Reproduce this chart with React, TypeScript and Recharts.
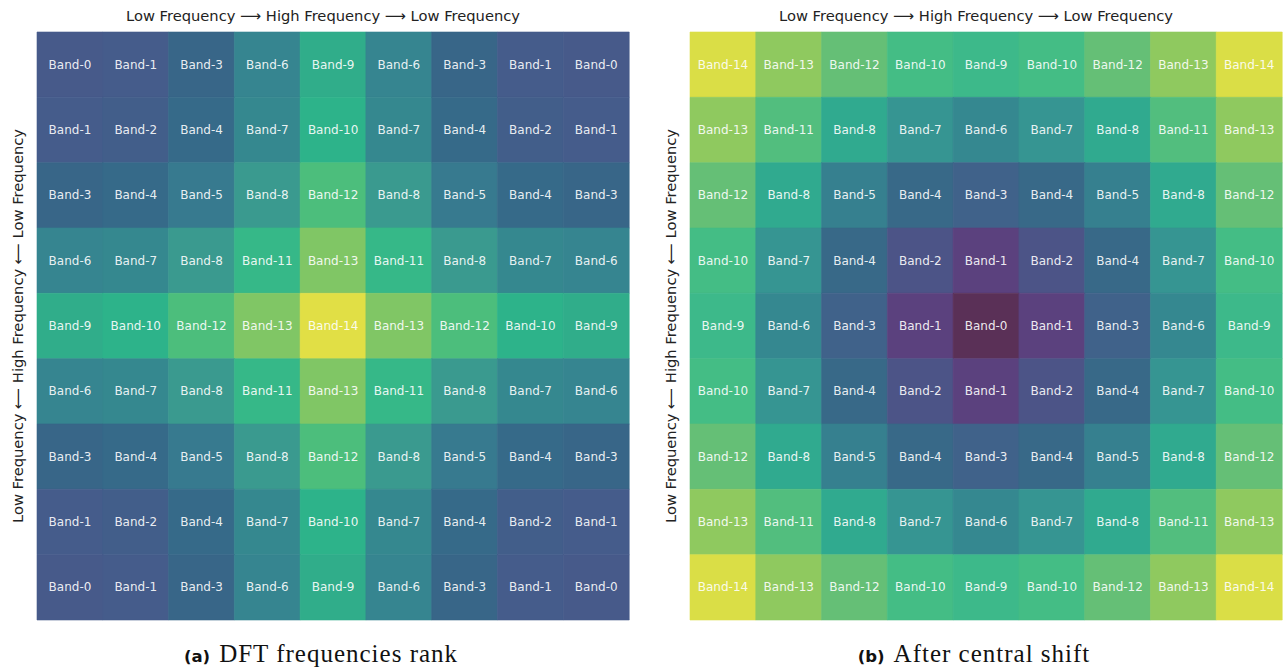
import React from "react";
import { BarChart, Bar, XAxis, YAxis, Cell, LabelList } from "recharts";

// band rank of each cell, row by row (top to bottom)
const dftRank: number[][] = [
  [0, 1, 3, 6, 9, 6, 3, 1, 0],
  [1, 2, 4, 7, 10, 7, 4, 2, 1],
  [3, 4, 5, 8, 12, 8, 5, 4, 3],
  [6, 7, 8, 11, 13, 11, 8, 7, 6],
  [9, 10, 12, 13, 14, 13, 12, 10, 9],
  [6, 7, 8, 11, 13, 11, 8, 7, 6],
  [3, 4, 5, 8, 12, 8, 5, 4, 3],
  [1, 2, 4, 7, 10, 7, 4, 2, 1],
  [0, 1, 3, 6, 9, 6, 3, 1, 0],
];

const shiftedRank: number[][] = [
  [14, 13, 12, 10, 9, 10, 12, 13, 14],
  [13, 11, 8, 7, 6, 7, 8, 11, 13],
  [12, 8, 5, 4, 3, 4, 5, 8, 12],
  [10, 7, 4, 2, 1, 2, 4, 7, 10],
  [9, 6, 3, 1, 0, 1, 3, 6, 9],
  [10, 7, 4, 2, 1, 2, 4, 7, 10],
  [12, 8, 5, 4, 3, 4, 5, 8, 12],
  [13, 11, 8, 7, 6, 7, 8, 11, 13],
  [14, 13, 12, 10, 9, 10, 12, 13, 14],
];

const columns = ["c0", "c1", "c2", "c3", "c4", "c5", "c6", "c7", "c8"];
const rowKeys = ["r0", "r1", "r2", "r3", "r4", "r5", "r6", "r7", "r8"];

// colours per band (panel a / panel b)
const leftColors = [
  "#475a8a", "#455c8b", "#425e8a", "#386688", "#366a89", "#377a8f", "#368590", "#35888f",
  "#3a9a8f", "#30ad8a", "#2db38a", "#36b888", "#4cbe7c", "#80c665", "#e1df45",
];
const rightColors = [
  "#5a3057", "#5b417e", "#4c5487", "#40628a", "#386988", "#36808f", "#358890", "#369592",
  "#30aa8f", "#3db98a", "#44bd85", "#52be7e", "#65bf76", "#8fc95f", "#dade46",
];

const gridData = columns.map((c) => {
  const row: Record<string, number | string> = { col: c };
  rowKeys.forEach((k) => (row[k] = 1));
  return row;
});

const sans = "'DejaVu Sans', sans-serif";
const axisText = "Low Frequency ⟶ High Frequency ⟶ Low Frequency";
const sideText = "Low Frequency ⟵ High Frequency ⟵ Low Frequency";

const Heatmap = ({ grid, colors }: { grid: number[][]; colors: string[] }) => (
  <BarChart
    width={640}
    height={630}
    data={gridData}
    margin={{ top: 32, left: 37, right: 11, bottom: 10 }}
    barCategoryGap={0}
    barGap={0}
  >
    <XAxis dataKey="col" hide />
    <YAxis type="number" domain={[0, 9]} reversed hide />
    {rowKeys.map((k, i) => (
      <Bar key={k} dataKey={k} stackId="g" isAnimationActive={false}>
        {gridData.map((_, j) => (
          <Cell key={j} fill={colors[grid[i][j]]} stroke={colors[grid[i][j]]} strokeWidth={0.6} />
        ))}
        <LabelList
          dataKey={k}
          content={(p: any) => (
            <text
              x={p.x + p.width / 2}
              y={p.y + p.height / 2}
              textAnchor="middle"
              dominantBaseline="central"
              fill="#ffffff"
              fillOpacity={0.9}
              fontSize={12}
              fontFamily={sans}
            >
              {`Band-${grid[i][p.index]}`}
            </text>
          )}
        />
      </Bar>
    ))}
  </BarChart>
);

const Panel = ({
  left,
  grid,
  colors,
  tag,
  caption,
}: {
  left: number;
  grid: number[][];
  colors: string[];
  tag: string;
  caption: string;
}) => (
  <div style={{ position: "absolute", left, top: 0, width: 640, height: 668 }}>
    <Heatmap grid={grid} colors={colors} />
    <div
      style={{
        position: "absolute",
        left: 27,
        width: 592,
        top: 7,
        textAlign: "center",
        fontFamily: sans,
        fontSize: 14.7,
        color: "#222",
        whiteSpace: "nowrap",
      }}
    >
      {axisText}
    </div>
    <div
      style={{
        position: "absolute",
        left: 17,
        top: 326,
        transform: "translate(-50%, -50%) rotate(-90deg)",
        fontFamily: sans,
        fontSize: 14.7,
        color: "#222",
        whiteSpace: "nowrap",
      }}
    >
      {sideText}
    </div>
    <div
      style={{
        position: "absolute",
        left: 25,
        width: 592,
        top: 640,
        textAlign: "center",
        whiteSpace: "nowrap",
        color: "#111",
      }}
    >
      <span style={{ fontFamily: sans, fontWeight: "bold", fontSize: 16.5 }}>{tag}</span>
      <span
        style={{
          fontFamily: "'Liberation Serif', serif",
          fontSize: 25,
          letterSpacing: 1,
          marginLeft: 9,
        }}
      >
        {caption}
      </span>
    </div>
  </div>
);

export default function App() {
  return (
    <div style={{ position: "absolute", left: 0, top: 0, width: 1284, height: 668, background: "#fff" }}>
      <Panel left={0} grid={dftRank} colors={leftColors} tag="(a)" caption="DFT frequencies rank" />
      <Panel left={653} grid={shiftedRank} colors={rightColors} tag="(b)" caption="After central shift" />
    </div>
  );
}
